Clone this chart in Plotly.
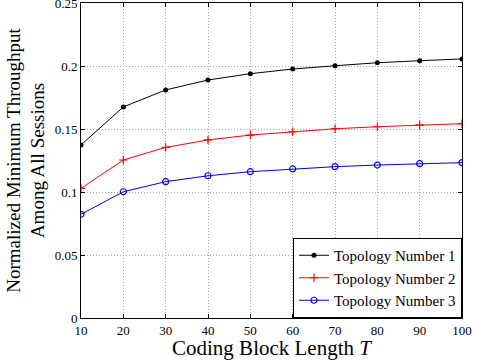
import plotly.graph_objects as go

block_len = [10, 20, 30, 40, 50, 60, 70, 80, 90, 100]
topo1 = [0.1373, 0.1675, 0.1810, 0.1889, 0.1939, 0.1976, 0.2002, 0.2026, 0.2042, 0.2056]
topo2 = [0.1029, 0.1254, 0.1354, 0.1413, 0.1452, 0.1479, 0.1502, 0.1518, 0.1532, 0.1542]
topo3 = [0.0823, 0.1002, 0.1082, 0.1129, 0.1161, 0.1183, 0.1201, 0.1214, 0.1225, 0.1233]
names = ["Topology Number 1", "Topology Number 2", "Topology Number 3"]
x_ticks = [10, 20, 30, 40, 50, 60, 70, 80, 90, 100]
y_ticks = [0, 0.05, 0.1, 0.15, 0.2, 0.25]
y_tick_text = ["0", "0.05", "0.1", "0.15", "0.2", "0.25"]

font = "Liberation Serif"

fig = go.Figure()
fig.add_trace(go.Scatter(x=block_len, y=topo1, name=names[0], mode="lines+markers",
                         line=dict(color="black", width=1),
                         marker=dict(symbol="circle", size=5, color="black")))
fig.add_trace(go.Scatter(x=block_len, y=topo2, name=names[1], mode="lines+markers",
                         line=dict(color="red", width=1),
                         marker=dict(symbol="cross-thin", size=6, line=dict(color="red", width=1.2), color="red")))
fig.add_trace(go.Scatter(x=block_len, y=topo3, name=names[2], mode="lines+markers",
                         line=dict(color="blue", width=1),
                         marker=dict(symbol="circle-open", size=6, line=dict(color="blue", width=1.2), color="blue")))

axis_common = dict(showline=True, linecolor="black", linewidth=1, mirror="allticks",
                   ticks="inside", ticklen=4, tickcolor="black",
                   showgrid=True, gridcolor="#a8a8a8", griddash="1px,2px", gridwidth=1,
                   zeroline=False, ticklabeloverflow="allow", automargin=False,
                   tickfont=dict(family=font, size=13, color="black"))

fig.update_layout(
    width=477, height=360,
    margin=dict(l=81, r=15, t=3, b=42),
    paper_bgcolor="white", plot_bgcolor="white",
    font=dict(family=font, color="black"),
    xaxis=dict(range=[10, 100], tickvals=x_ticks,
               title=dict(text="Coding Block Length <i>T</i>", font=dict(family=font, size=21), standoff=0),
               **axis_common),
    yaxis=dict(range=[0, 0.25], tickvals=y_ticks, ticktext=y_tick_text,
               title=dict(text="Normalized Minimum Throughput<br>Among All Sessions",
                          font=dict(family=font, size=19), standoff=4),
               **axis_common),
    legend=dict(x=1, y=0, xanchor="right", yanchor="bottom",
                bgcolor="white", bordercolor="black", borderwidth=1,
                font=dict(family=font, size=15), tracegroupgap=0,
                itemwidth=30),
    showlegend=True,
)

fig.write_html("out.html")
